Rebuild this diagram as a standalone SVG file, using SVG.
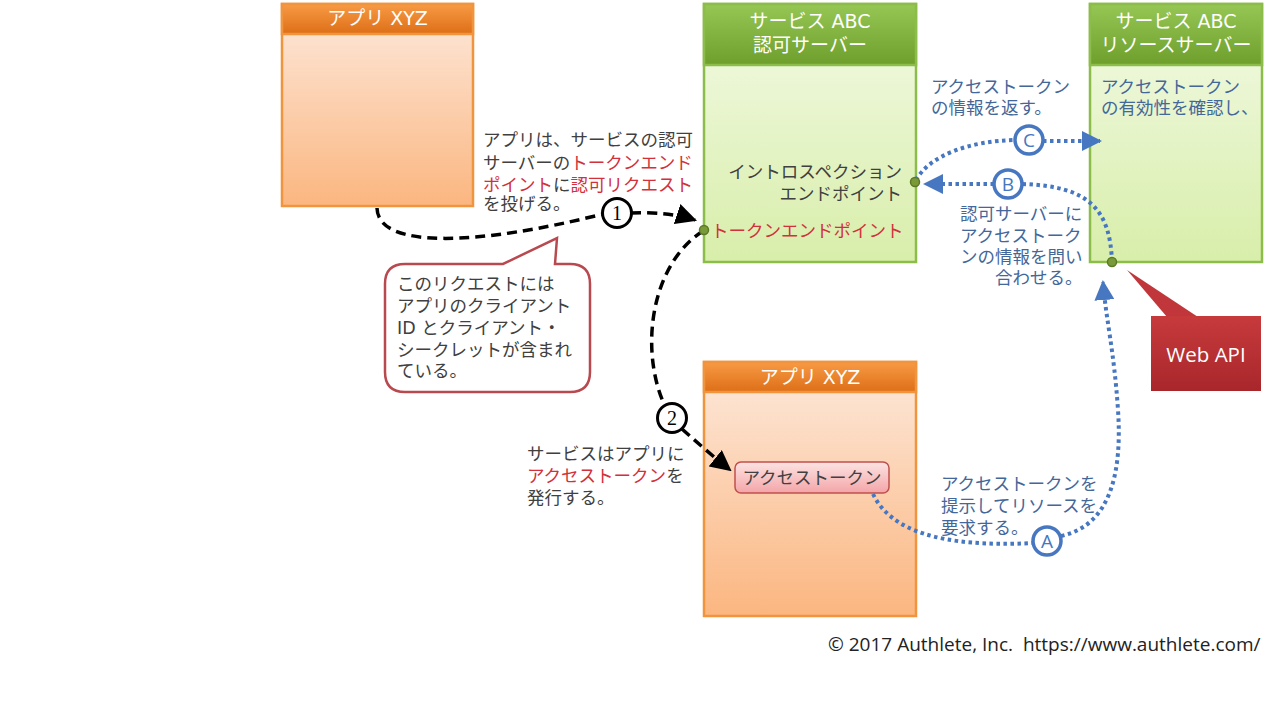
<svg xmlns="http://www.w3.org/2000/svg" width="1280" height="720" viewBox="0 0 1280 720">
<defs>
<linearGradient id="oh" x1="0" y1="0" x2="0" y2="1"><stop offset="0" stop-color="#f89a45"/><stop offset="1" stop-color="#dd6f17"/></linearGradient>
<linearGradient id="ob" x1="0" y1="0" x2="0" y2="1"><stop offset="0" stop-color="#fde9dc"/><stop offset="1" stop-color="#fbb680"/></linearGradient>
<linearGradient id="gh" x1="0" y1="0" x2="0" y2="1"><stop offset="0" stop-color="#96c653"/><stop offset="1" stop-color="#6e9f2c"/></linearGradient>
<linearGradient id="gb" x1="0" y1="0" x2="0" y2="1"><stop offset="0" stop-color="#f3fae6"/><stop offset="1" stop-color="#d8eeaa"/></linearGradient>
<linearGradient id="rb" x1="0" y1="0" x2="0" y2="1"><stop offset="0" stop-color="#c73a3c"/><stop offset="1" stop-color="#a8272b"/></linearGradient>
<linearGradient id="pk" x1="0" y1="0" x2="0" y2="1"><stop offset="0" stop-color="#fde3e3"/><stop offset="1" stop-color="#f4a5a8"/></linearGradient>
<marker id="ak" viewBox="0 0 10 10" refX="9" refY="5" markerWidth="6" markerHeight="6" markerUnits="strokeWidth" orient="auto"><path d="M0,0 L10,5 L0,10 z" fill="#000"/></marker>
<marker id="ab" viewBox="0 0 10 10" refX="9" refY="5" markerWidth="5" markerHeight="5" markerUnits="strokeWidth" orient="auto"><path d="M0,0 L10,5 L0,10 z" fill="#4777c0"/></marker>
</defs>
<style>
text{font-family:"DejaVu Sans","Noto Sans CJK JP",sans-serif;font-size:17.5px;fill:#404040}
.hd{fill:#fff;font-size:19px;text-anchor:middle}
.red{fill:#d2303a}
.bl{fill:#44679a}
.ob{stroke:#f0943e;stroke-width:2.5}
.gbx{stroke:#8cbd4a;stroke-width:2.5}
.blk{fill:none;stroke:#000;stroke-width:3.5;stroke-dasharray:10 6}
.blu{fill:none;stroke:#4777c0;stroke-width:4;stroke-dasharray:3.5 3.5}
.cb{fill:#fff;stroke:#000;stroke-width:3}
.cu{fill:#fff;stroke:#4777c0;stroke-width:3.5}
.dot{fill:#7a9a3a;stroke:#5c7a25;stroke-width:1.5}
.num{font-family:"Liberation Serif",serif;font-size:20px;fill:#000;text-anchor:middle}
.let{font-family:"Open Sans",sans-serif;font-size:19px;fill:#4777c0;text-anchor:middle}
</style>

<g id="app1">
<rect x="282" y="4" width="191" height="202" fill="url(#ob)" class="ob"/>
<rect x="282" y="4" width="191" height="30" fill="url(#oh)" class="ob"/>
<text x="377.5" y="25" class="hd">アプリ XYZ</text>
</g>

<g id="authz">
<rect x="704" y="4" width="212" height="258" fill="url(#gb)" class="gbx"/>
<rect x="704" y="4" width="212" height="61" fill="url(#gh)" class="gbx"/>
<text x="810" y="28" class="hd">サービス ABC</text>
<text x="810" y="52" class="hd">認可サーバー</text>
<text x="902" y="178" text-anchor="end">イントロスペクション</text>
<text x="902" y="200" text-anchor="end">エンドポイント</text>
<text x="711" y="237" class="red">トークンエンドポイント</text>
</g>

<g id="resource">
<rect x="1090" y="4" width="172" height="258" fill="url(#gb)" class="gbx"/>
<rect x="1090" y="4" width="172" height="61" fill="url(#gh)" class="gbx"/>
<text x="1176" y="28" class="hd">サービス ABC</text>
<text x="1176" y="52" class="hd">リソースサーバー</text>
<text x="1101" y="93" class="bl">アクセストークン</text>
<text x="1101" y="114" class="bl">の有効性を確認し、</text>
</g>

<g id="app2">
<rect x="704" y="362" width="212" height="254" fill="url(#ob)" class="ob"/>
<rect x="704" y="362" width="212" height="30" fill="url(#oh)" class="ob"/>
<text x="810" y="384" class="hd">アプリ XYZ</text>
</g>

<g id="token">
<rect x="735" y="462" width="154" height="31" rx="6" fill="url(#pk)" stroke="#c0504d" stroke-width="1.5"/>
<text x="812" y="484" text-anchor="middle" fill="#333">アクセストークン</text>
</g>

<g id="webapi">
<path d="M1127,270 L1198,317 L1167,317 z" fill="#c0363a"/>
<rect x="1151" y="316" width="110" height="75" fill="url(#rb)"/>
<text x="1206" y="362" text-anchor="middle" style="fill:#fff;font-family:'Open Sans',sans-serif;font-size:20.5px">Web API</text>
</g>

<g id="callout">
<path d="M405,264 L503,264 L557,238 L555,264 L570,264 Q590,264 590,284 L590,372 Q590,392 570,392 L405,392 Q385,392 385,372 L385,284 Q385,264 405,264 z" fill="#fff" stroke="#b8494f" stroke-width="2.5"/>
<text x="397" y="290">このリクエストには</text>
<text x="397" y="312">アプリのクライアント</text>
<text x="397" y="334">ID とクライアント・</text>
<text x="397" y="356">シークレットが含まれ</text>
<text x="397" y="377">ている。</text>
</g>

<g id="connectors">
<path class="blk" d="M377,208 C378,250 480,245 603,214"/>
<path class="blk" d="M631,213 C660,212 680,215 695,220" marker-end="url(#ak)"/>
<path class="blk" d="M703,231 C650,265 640,350 664,404"/>
<path class="blk" d="M682,429 C700,445 715,458 730,470" marker-end="url(#ak)"/>
<path class="blu" d="M873,494 C890,530 940,548 1033,543"/>
<path class="blu" d="M1061,536 C1112,525 1122,470 1118,410 C1114,350 1106,320 1103,282" marker-end="url(#ab)"/>
<path class="blu" d="M1112,262 C1110,210 1090,186 1022,184"/>
<path class="blu" d="M994,184 L925,184" marker-end="url(#ab)"/>
<path class="blu" d="M916,180 C930,155 970,141 1015,140"/>
<path class="blu" d="M1043,141 L1100,141" marker-end="url(#ab)"/>
<circle cx="617" cy="213" r="14.5" class="cb"/>
<text x="617" y="220" class="num">1</text>
<circle cx="672" cy="418" r="14.5" class="cb"/>
<text x="672" y="425" class="num">2</text>
<circle cx="1047" cy="541" r="14" class="cu"/>
<text x="1047" y="548" class="let">A</text>
<circle cx="1008" cy="184" r="14" class="cu"/>
<text x="1008" y="191" class="let">B</text>
<circle cx="1029" cy="140" r="14" class="cu"/>
<text x="1029" y="147" class="let">C</text>
<circle cx="915" cy="182" r="4.5" class="dot"/>
<circle cx="704" cy="230" r="4.5" class="dot"/>
<circle cx="1112" cy="262" r="4.5" class="dot"/>
</g>

<g id="labels">
<text x="483" y="146">アプリは、サービスの認可</text>
<text x="483" y="169">サーバーの<tspan class="red">トークンエンド</tspan></text>
<text x="483" y="191"><tspan class="red">ポイント</tspan>に<tspan class="red">認可リクエスト</tspan></text>
<text x="483" y="210">を投げる。</text>
<text x="527" y="460">サービスはアプリに</text>
<text x="527" y="482"><tspan class="red">アクセストークン</tspan>を</text>
<text x="527" y="504">発行する。</text>
<text x="931" y="93" class="bl">アクセストークン</text>
<text x="931" y="114" class="bl">の情報を返す。</text>
<text x="960" y="220" class="bl">認可サーバーに</text>
<text x="960" y="242" class="bl">アクセストーク</text>
<text x="960" y="263" class="bl">ンの情報を問い</text>
<text x="995" y="284" class="bl">合わせる。</text>
<text x="941" y="490" class="bl">アクセストークンを</text>
<text x="941" y="512" class="bl">提示してリソースを</text>
<text x="941" y="534" class="bl">要求する。</text>
<text x="828" y="651" xml:space="preserve" style="font-family:'Open Sans',sans-serif;font-size:19px;fill:#222">© 2017 Authlete, Inc.  https://www.authlete.com/</text>
</g>
</svg>
